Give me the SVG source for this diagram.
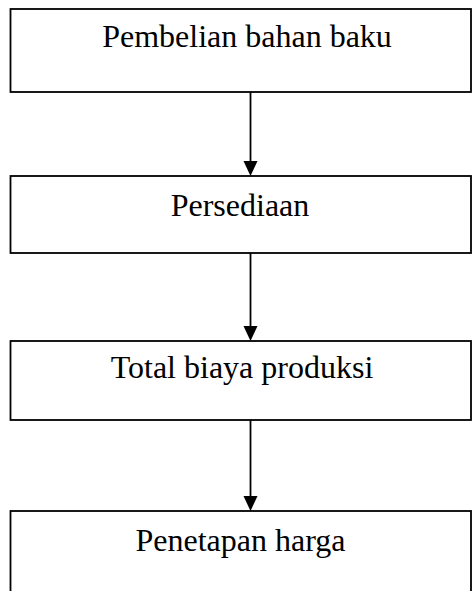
<svg xmlns="http://www.w3.org/2000/svg" width="472" height="591" viewBox="0 0 472 591">
<style>
.box{fill:#fff;stroke:#000;stroke-width:1.8}
.t{font-family:"Liberation Serif","Times New Roman",serif;font-size:32px;fill:#000;text-anchor:middle}
.c{stroke:#000;stroke-width:1.8;fill:none}
.h{fill:#000}
</style>
<rect width="472" height="591" fill="#fff"/>
<g id="n1"><rect class="box" x="10.5" y="9" width="460.5" height="83"/><text class="t" x="247" y="47">Pembelian bahan baku</text></g>
<g id="n2"><rect class="box" x="10.5" y="176" width="460.5" height="77"/><text class="t" x="240" y="216">Persediaan</text></g>
<g id="n3"><rect class="box" x="10.5" y="341" width="460.5" height="79"/><text class="t" x="242" y="378">Total biaya produksi</text></g>
<g id="n4"><rect class="box" x="10.5" y="511" width="460.5" height="90"/><text class="t" x="240.5" y="551">Penetapan harga</text></g>
<g id="connectors">
<line class="c" x1="250.5" y1="92" x2="250.5" y2="161"/>
<path class="h" d="M243.5,161 L257.5,161 L250.5,176 Z"/>
<line class="c" x1="250.5" y1="253" x2="250.5" y2="326"/>
<path class="h" d="M243.5,326 L257.5,326 L250.5,341 Z"/>
<line class="c" x1="250.5" y1="420" x2="250.5" y2="496"/>
<path class="h" d="M243.5,496 L257.5,496 L250.5,511 Z"/>
</g>
</svg>
